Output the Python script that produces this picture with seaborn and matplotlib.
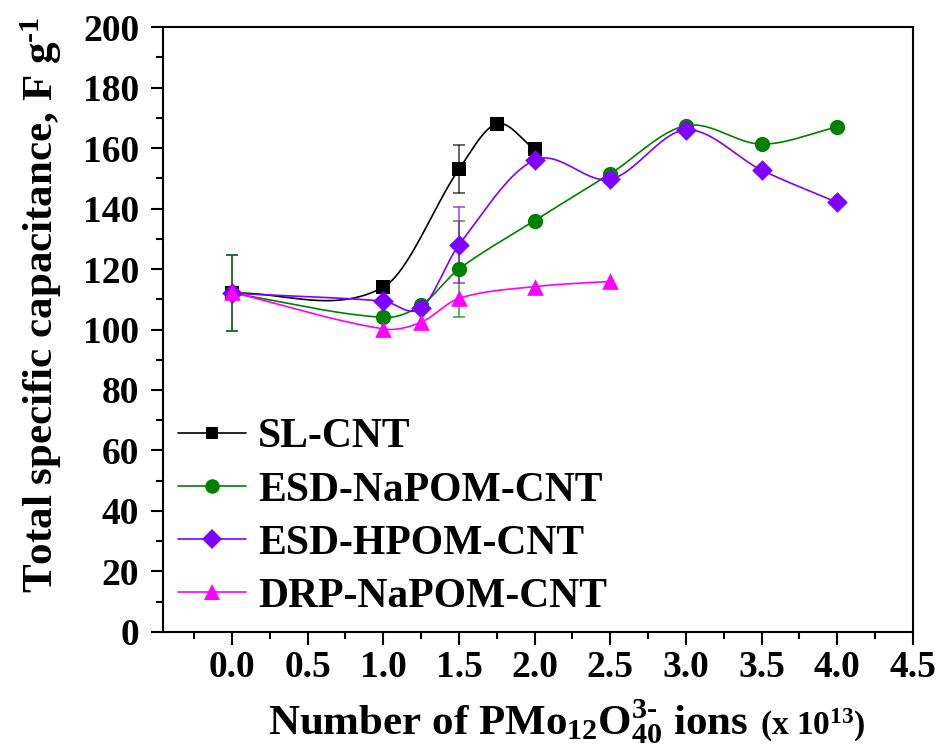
import numpy as np
import pandas as pd
import matplotlib
matplotlib.use("Agg")
import matplotlib.pyplot as plt
import seaborn as sns
from matplotlib.ticker import MultipleLocator, FormatStrFormatter
from matplotlib.offsetbox import TextArea, HPacker, AnchoredOffsetbox
from matplotlib.lines import Line2D

# ---------------- data ----------------
sl_x = [0.0, 1.0, 1.5, 1.75, 2.0]
sl_y = [112, 114, 153, 168, 159.6]
sl_err = [12.5, 0, 8, 0, 0]

na_x = [0.0, 1.0, 1.25, 1.5, 2.0, 2.5, 3.0, 3.5, 4.0]
na_y = [112, 104, 108, 120, 136, 151.5, 167.4, 161.3, 167]
na_err = [12.5, 0, 0, 16, 0, 0, 0, 0, 0]

hp_x = [0.0, 1.0, 1.25, 1.5, 2.0, 2.5, 3.0, 3.5, 4.0]
hp_y = [112, 109.4, 107, 128, 156, 149.7, 166, 152.7, 142]
hp_err = [0, 0, 0, 12.5, 0, 0, 0, 0, 0]

drp_x = [0.0, 1.0, 1.25, 1.5, 2.0, 2.5]
drp_y = [112.3, 100.2, 102.4, 110.3, 114.2, 115.9]

names = ["SL-CNT", "ESD-NaPOM-CNT", "ESD-HPOM-CNT", "DRP-NaPOM-CNT"]
colors = ["#000000", "#008000", "#8000FF", "#FF00FF"]
markers = ["s", "o", "D", "^"]
msizes = [9.5, 11, 10.5, 12]

x_ticks = [0.0, 0.5, 1.0, 1.5, 2.0, 2.5, 3.0, 3.5, 4.0, 4.5]
y_ticks = list(range(0, 201, 20))


def hermite_spline(x, y, n=60):
    """Cardinal (Catmull-Rom style) cubic Hermite curve through the points."""
    x = np.asarray(x, float)
    y = np.asarray(y, float)
    k = len(x)
    m = np.zeros(k)
    for i in range(k):
        if i == 0:
            m[i] = (y[1] - y[0]) / (x[1] - x[0])
        elif i == k - 1:
            m[i] = (y[-1] - y[-2]) / (x[-1] - x[-2])
        else:
            m[i] = (y[i + 1] - y[i - 1]) / (x[i + 1] - x[i - 1])
    xs_all, ys_all = [], []
    for i in range(k - 1):
        h = x[i + 1] - x[i]
        t = np.linspace(0, 1, n, endpoint=(i == k - 2))
        h00 = 2 * t ** 3 - 3 * t ** 2 + 1
        h10 = t ** 3 - 2 * t ** 2 + t
        h01 = -2 * t ** 3 + 3 * t ** 2
        h11 = t ** 3 - t ** 2
        xs_all.append(x[i] + t * h)
        ys_all.append(h00 * y[i] + h10 * h * m[i] + h01 * y[i + 1] + h11 * h * m[i + 1])
    return np.concatenate(xs_all), np.concatenate(ys_all)


series = [
    (sl_x, sl_y, sl_err),
    (na_x, na_y, na_err),
    (hp_x, hp_y, hp_err),
    (drp_x, drp_y, None),
]

# ---------------- style ----------------
sns.set_theme(style="ticks")
plt.rcParams["font.family"] = ["Liberation Serif", "DejaVu Serif"]
plt.rcParams["font.weight"] = "bold"
plt.rcParams["mathtext.fontset"] = "custom"
plt.rcParams["mathtext.rm"] = "Liberation Serif:bold"
plt.rcParams["mathtext.bf"] = "Liberation Serif:bold"
plt.rcParams["mathtext.it"] = "Liberation Serif:bold"
plt.rcParams["mathtext.default"] = "rm"
for key in ["text.color", "axes.labelcolor", "xtick.color", "ytick.color",
            "axes.edgecolor"]:
    plt.rcParams[key] = "black"

fig = plt.figure(figsize=(9.41, 7.51), dpi=100)
ax = fig.add_axes([0.1732, 0.1585, 0.9702 - 0.1732, 0.964 - 0.1585])

# error bars first (beneath)
for (x, y, e), c in zip(series, colors):
    if e is None:
        continue
    xe = [xi for xi, ei in zip(x, e) if ei > 0]
    ye = [yi for yi, ei in zip(y, e) if ei > 0]
    ee = [ei for ei in e if ei > 0]
    ax.errorbar(xe, ye, yerr=ee, fmt="none", ecolor=c, elinewidth=1.4,
                capsize=4, capthick=1.4, alpha=0.6, zorder=1)

for (x, y, e), name, c, m, ms in zip(series, names, colors, markers, msizes):
    xs, ys = hermite_spline(x, y)
    sdf = pd.DataFrame({"x": xs, "y": ys})
    sns.lineplot(data=sdf, x="x", y="y", ax=ax, color=c, lw=1.2,
                 sort=False, estimator=None, zorder=2)
    pdf = pd.DataFrame({"x": x, "y": y})
    sns.scatterplot(data=pdf, x="x", y="y", ax=ax, color=c, marker=m,
                    s=ms ** 2, edgecolor=c, linewidth=0, zorder=3)

handles = [Line2D([], [], color=c, lw=1.2, marker=m, markersize=ms * 0.95,
                  markeredgewidth=0) for c, m, ms in zip(colors, markers, msizes)]
leg = ax.legend(handles, names, loc="lower left", bbox_to_anchor=(0.003, 0.006),
                frameon=False, prop={"family": "Liberation Serif", "weight": "bold", "size": 30},
                handlelength=1.65, handletextpad=0.28, labelspacing=0.36,
                borderaxespad=0.0, borderpad=0.3)
for t in leg.get_texts():
    t.set_color("black")

ax.set_xlim(-0.456, 4.5)
ax.set_ylim(0, 200)
ax.set_xticks(x_ticks)
ax.set_yticks(y_ticks)
ax.xaxis.set_minor_locator(MultipleLocator(0.25))
ax.yaxis.set_minor_locator(MultipleLocator(10))
ax.xaxis.set_major_formatter(FormatStrFormatter("%.1f"))
ax.tick_params(which="major", direction="out", length=9, width=1.5,
               labelsize=27, top=False, right=False, colors="black")
ax.tick_params(axis="x", which="major", pad=4)
ax.tick_params(axis="y", which="major", pad=8)
ax.tick_params(which="minor", direction="out", length=5, width=1.5,
               top=False, right=False, colors="black")
for lab in ax.get_xticklabels() + ax.get_yticklabels():
    lab.set_fontweight("bold")
for sp in ax.spines.values():
    sp.set_linewidth(1.5)
    sp.set_color("black")

ax.set_xlabel("")
ax.set_ylabel(r"Total specific capacitance, F g$^{\text{-}1}$", fontsize=31,
              fontweight="bold", color="black")
ax.yaxis.set_label_coords(-0.132, 0.54)

# x label built from pieces with a smaller tail
t1 = TextArea(r"Number of PMo$_{12}$O$_{40}^{3\text{-}}$ ions",
              textprops=dict(fontsize=31, fontweight="bold", color="black",
                             family="Liberation Serif"))
t2 = TextArea("(x 10$^{13}$)",
              textprops=dict(fontsize=24, fontweight="bold", color="black",
                             family="Liberation Serif"))
pack = HPacker(children=[t1, t2], align="baseline", pad=0, sep=8)
box = AnchoredOffsetbox(loc="center", child=pack, frameon=False,
                        bbox_to_anchor=(567 / 941, 1 - 722 / 751),
                        bbox_transform=fig.transFigure, borderpad=0, pad=0)
fig.add_artist(box)

fig.savefig("out.png", dpi=100)
